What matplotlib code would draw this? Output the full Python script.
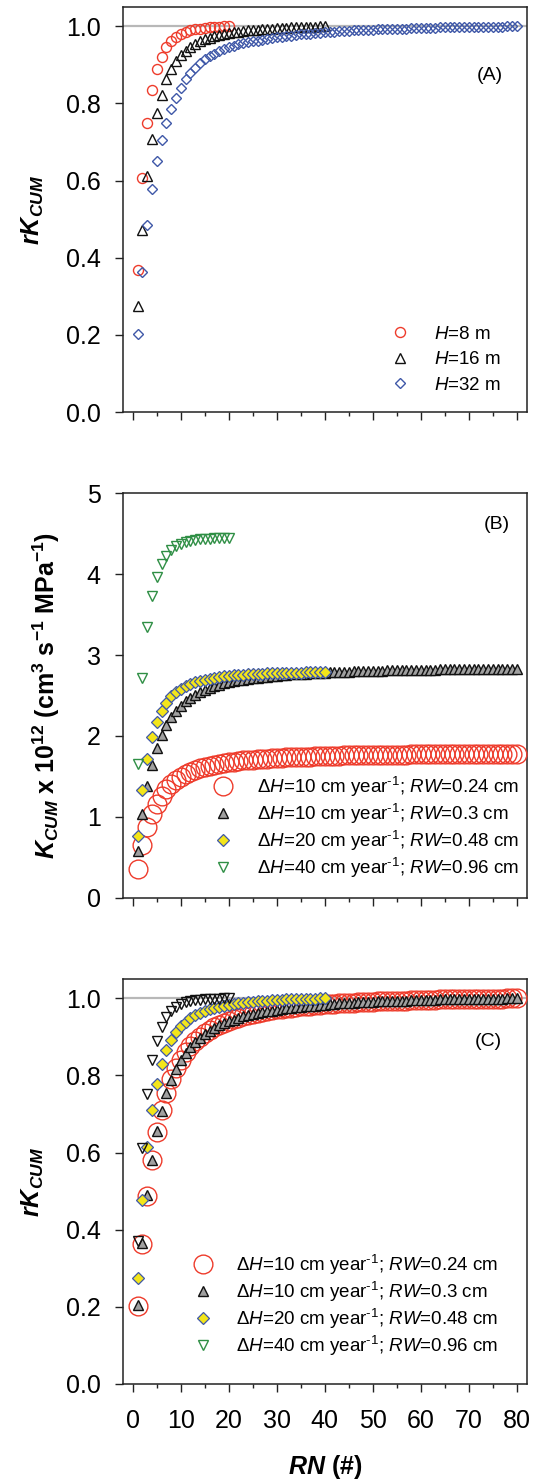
import matplotlib
matplotlib.use('Agg')
import matplotlib.pyplot as plt
from matplotlib.lines import Line2D
from matplotlib.ticker import MultipleLocator, FormatStrFormatter

# ---------------- data ----------------
# Panel A: relative cumulative conductance for tree heights
rk_h8 = [0.369, 0.607, 0.749, 0.836, 0.889, 0.921, 0.946, 0.962, 0.973, 0.980,
         0.985, 0.989, 0.992, 0.994, 0.996, 0.997, 0.998, 0.999, 1.000, 1.000]
rk_h16 = [0.274, 0.473, 0.611, 0.708, 0.774, 0.823, 0.862, 0.888, 0.909, 0.925,
          0.937, 0.947, 0.955, 0.961, 0.966, 0.970, 0.974, 0.977, 0.980, 0.982,
          0.984, 0.986, 0.988, 0.989, 0.990, 0.991, 0.992, 0.993, 0.994, 0.995,
          0.996, 0.996, 0.997, 0.997, 0.998, 0.998, 0.999, 0.999, 1.000, 1.000]
rk_h32 = [0.202, 0.362, 0.486, 0.578, 0.650, 0.704, 0.749, 0.786, 0.814, 0.840,
          0.862, 0.879, 0.893, 0.904, 0.914, 0.922, 0.929, 0.935, 0.940, 0.945,
          0.949, 0.953, 0.956, 0.959, 0.961, 0.963, 0.965, 0.967, 0.969, 0.971,
          0.973, 0.975, 0.976, 0.978, 0.979, 0.980, 0.981, 0.982, 0.983, 0.984,
          0.985, 0.986, 0.987, 0.988, 0.988, 0.989, 0.990, 0.990, 0.991, 0.991,
          0.992, 0.992, 0.993, 0.993, 0.994, 0.994, 0.994, 0.995, 0.995, 0.995,
          0.996, 0.996, 0.996, 0.997, 0.997, 0.997, 0.997, 0.998, 0.998, 0.998,
          0.998, 0.998, 0.999, 0.999, 0.999, 0.999, 0.999, 1.000, 1.000, 1.000]

# Panel B: cumulative conductance K_CUM x 10^12
k_dh10_rw024 = [0.360, 0.648, 0.869, 1.036, 1.164, 1.264, 1.342, 1.406, 1.456, 1.497,
                1.531, 1.559, 1.582, 1.602, 1.620, 1.634, 1.647, 1.657, 1.668, 1.677,
                1.684, 1.691, 1.698, 1.703, 1.709, 1.714, 1.718, 1.721, 1.725, 1.728,
                1.732, 1.736, 1.737, 1.741, 1.743, 1.744, 1.746, 1.748, 1.750, 1.752,
                1.753, 1.755, 1.757, 1.759, 1.759, 1.760, 1.762, 1.762, 1.764, 1.764,
                1.766, 1.766, 1.768, 1.768, 1.769, 1.769, 1.769, 1.771, 1.771, 1.771,
                1.773, 1.773, 1.773, 1.775, 1.775, 1.775, 1.775, 1.776, 1.776, 1.776,
                1.776, 1.776, 1.778, 1.778, 1.778, 1.778, 1.778, 1.780, 1.780, 1.780]
k_dh10_rw03 = [0.580, 1.036, 1.384, 1.647, 1.856, 2.006, 2.134, 2.233, 2.312, 2.374,
               2.428, 2.473, 2.510, 2.541, 2.570, 2.592, 2.612, 2.632, 2.649, 2.663,
               2.674, 2.686, 2.697, 2.705, 2.714, 2.722, 2.728, 2.734, 2.739, 2.745,
               2.751, 2.756, 2.762, 2.765, 2.768, 2.771, 2.773, 2.776, 2.779, 2.782,
               2.788, 2.790, 2.793, 2.796, 2.796, 2.799, 2.802, 2.802, 2.805, 2.805,
               2.807, 2.807, 2.810, 2.810, 2.813, 2.813, 2.813, 2.816, 2.816, 2.816,
               2.819, 2.819, 2.819, 2.822, 2.822, 2.822, 2.822, 2.824, 2.824, 2.824,
               2.824, 2.824, 2.827, 2.827, 2.827, 2.827, 2.827, 2.830, 2.830, 2.830]
k_dh20_rw048 = [0.767, 1.330, 1.716, 1.984, 2.173, 2.313, 2.413, 2.489, 2.544, 2.586,
                2.620, 2.645, 2.667, 2.684, 2.698, 2.709, 2.720, 2.729, 2.737, 2.743,
                2.748, 2.754, 2.757, 2.762, 2.765, 2.768, 2.770, 2.773, 2.776, 2.776,
                2.779, 2.782, 2.782, 2.784, 2.784, 2.787, 2.787, 2.787, 2.790, 2.790]
k_dh40_rw096 = [1.650, 2.720, 3.350, 3.730, 3.970, 4.120, 4.230, 4.300, 4.345, 4.375,
                4.397, 4.412, 4.423, 4.430, 4.435, 4.440, 4.444, 4.447, 4.450, 4.450]

# Panel C: relative cumulative conductance
rk_dh10_rw024 = [0.202, 0.364, 0.488, 0.582, 0.654, 0.710, 0.754, 0.790, 0.818, 0.841,
                 0.860, 0.876, 0.889, 0.900, 0.910, 0.918, 0.925, 0.931, 0.937, 0.942,
                 0.946, 0.950, 0.954, 0.957, 0.960, 0.963, 0.965, 0.967, 0.969, 0.971,
                 0.973, 0.975, 0.976, 0.978, 0.979, 0.980, 0.981, 0.982, 0.983, 0.984,
                 0.985, 0.986, 0.987, 0.988, 0.988, 0.989, 0.990, 0.990, 0.991, 0.991,
                 0.992, 0.992, 0.993, 0.993, 0.994, 0.994, 0.994, 0.995, 0.995, 0.995,
                 0.996, 0.996, 0.996, 0.997, 0.997, 0.997, 0.997, 0.998, 0.998, 0.998,
                 0.998, 0.998, 0.999, 0.999, 0.999, 0.999, 0.999, 1.000, 1.000, 1.000]
rk_dh10_rw03 = [0.205, 0.366, 0.489, 0.582, 0.656, 0.709, 0.754, 0.789, 0.817, 0.839,
                0.858, 0.874, 0.887, 0.898, 0.908, 0.916, 0.923, 0.930, 0.936, 0.941,
                0.945, 0.949, 0.953, 0.956, 0.959, 0.962, 0.964, 0.966, 0.968, 0.970,
                0.972, 0.974, 0.976, 0.977, 0.978, 0.979, 0.980, 0.981, 0.982, 0.983,
                0.985, 0.986, 0.987, 0.988, 0.988, 0.989, 0.990, 0.990, 0.991, 0.991,
                0.992, 0.992, 0.993, 0.993, 0.994, 0.994, 0.994, 0.995, 0.995, 0.995,
                0.996, 0.996, 0.996, 0.997, 0.997, 0.997, 0.997, 0.998, 0.998, 0.998,
                0.998, 0.998, 0.999, 0.999, 0.999, 0.999, 0.999, 1.000, 1.000, 1.000]
rk_dh20_rw048 = [0.275, 0.477, 0.615, 0.711, 0.779, 0.829, 0.865, 0.892, 0.912, 0.927,
                 0.939, 0.948, 0.956, 0.962, 0.967, 0.971, 0.975, 0.978, 0.981, 0.983,
                 0.985, 0.987, 0.988, 0.990, 0.991, 0.992, 0.993, 0.994, 0.995, 0.995,
                 0.996, 0.997, 0.997, 0.998, 0.998, 0.999, 0.999, 0.999, 1.000, 1.000]
rk_dh40_rw096 = [0.370, 0.612, 0.752, 0.839, 0.890, 0.925, 0.951, 0.968, 0.978, 0.985,
                 0.990, 0.993, 0.995, 0.996, 0.997, 0.998, 0.999, 0.999, 1.000, 1.000]

labels_A = [r'$\mathit{H}$=8 m', r'$\mathit{H}$=16 m', r'$\mathit{H}$=32 m']
labels_BC = [r'$\mathit{ΔH}$=10 cm year$^{\text{-1}}$; $\mathit{RW}$=0.24 cm',
             r'$\mathit{ΔH}$=10 cm year$^{\text{-1}}$; $\mathit{RW}$=0.3 cm',
             r'$\mathit{ΔH}$=20 cm year$^{\text{-1}}$; $\mathit{RW}$=0.48 cm',
             r'$\mathit{ΔH}$=40 cm year$^{\text{-1}}$; $\mathit{RW}$=0.96 cm']


def rn(vals):
    return list(range(1, len(vals) + 1))


# ---------------- style ----------------
plt.rcParams.update({
    'font.family': 'Liberation Sans',
    'mathtext.fontset': 'custom',
    'mathtext.rm': 'Liberation Sans',
    'mathtext.it': 'Liberation Sans:italic',
    'mathtext.bf': 'Liberation Sans:bold',
    'mathtext.bfit': 'Liberation Sans:italic:bold',
    'axes.linewidth': 1.1,
    'axes.edgecolor': '#222222',
})

RED = '#ee3b2b'
BLUE = '#3f58a8'
GREEN = '#2f8f45'
GRAY = '#a0a0a0'
YELLOW = '#f3e51a'
REFGRAY = '#b8b8b8'

fig = plt.figure(figsize=(5.36, 14.8), dpi=100)
axA = fig.add_axes([0.229, 0.7216, 0.754, 0.2737])
axB = fig.add_axes([0.229, 0.3934, 0.754, 0.2733])
axC = fig.add_axes([0.229, 0.0649, 0.754, 0.2736])

for ax in (axA, axB, axC):
    ax.set_xlim(-2.1, 82.1)
    ax.xaxis.set_major_locator(MultipleLocator(10))
    ax.xaxis.set_minor_locator(MultipleLocator(5))
    ax.tick_params(axis='both', which='major', direction='out', length=6,
                   width=1.0, labelsize=18, color='#222222')
    ax.tick_params(axis='x', which='minor', direction='out', length=3, width=1.0,
                   color='#222222')
    ax.tick_params(axis='y', which='major', pad=10)
    ax.tick_params(axis='x', which='major', pad=12)

axA.tick_params(axis='x', labelbottom=False)
axB.tick_params(axis='x', labelbottom=False)

# ---- Panel A ----
axA.axhline(1.0, color=REFGRAY, lw=1.6, zorder=1)
axA.plot(rn(rk_h8), rk_h8, ls='none', marker='o', ms=7.2, mfc='none', mec=RED, mew=1.0, zorder=3)
axA.plot(rn(rk_h16), rk_h16, ls='none', marker='^', ms=7.2, mfc='none', mec='#111111', mew=1.0, zorder=3)
axA.plot(rn(rk_h32), rk_h32, ls='none', marker='D', ms=5.1, mfc='none', mec=BLUE, mew=1.0, zorder=3)
axA.set_ylim(0, 1.05)
axA.yaxis.set_major_locator(MultipleLocator(0.2))
axA.yaxis.set_major_formatter(FormatStrFormatter('%.1f'))
axA.set_ylabel(r'$\mathbfit{rK}_{\mathbfit{CUM}}$', fontsize=18)
axA.yaxis.set_label_coords(-0.19, 0.5)
axA.text(0.908, 0.83, '(A)', transform=axA.transAxes, fontsize=14, ha='center', va='center')
hA = [Line2D([], [], ls='none', marker='o', ms=7.2, mfc='none', mec=RED, mew=1.0),
      Line2D([], [], ls='none', marker='^', ms=7.2, mfc='none', mec='#111111', mew=1.0),
      Line2D([], [], ls='none', marker='D', ms=5.1, mfc='none', mec=BLUE, mew=1.0)]
axA.legend(hA, labels_A, loc='lower right', bbox_to_anchor=(0.935, 0.045), frameon=False,
           fontsize=13.5, handlelength=1.0, handletextpad=1.3, labelspacing=0.45,
           borderpad=0, borderaxespad=0)

# ---- Panel B ----
axB.plot(rn(k_dh10_rw024), k_dh10_rw024, ls='none', marker='o', ms=13.5, mfc='none', mec=RED, mew=1.0, zorder=3)
axB.plot(rn(k_dh10_rw03), k_dh10_rw03, ls='none', marker='^', ms=7.9, mfc=GRAY, mec='#111111', mew=1.0, zorder=3)
axB.plot(rn(k_dh20_rw048), k_dh20_rw048, ls='none', marker='D', ms=5.8, mfc=YELLOW, mec=BLUE, mew=0.9, zorder=4)
axB.plot(rn(k_dh40_rw096), k_dh40_rw096, ls='none', marker='v', ms=7.9, mfc='none', mec=GREEN, mew=1.0, zorder=4)
axB.set_ylim(0, 5)
axB.yaxis.set_major_locator(MultipleLocator(1))
axB.set_ylabel(r'$\mathbfit{K}_{\mathbfit{CUM}}$ x 10$^{\mathbf{12}}$ (cm$^{\mathbf{3}}$ s$^{\mathbf{-1}}$ MPa$^{\mathbf{-1}}$)',
               fontsize=18, fontweight='bold')
axB.yaxis.set_label_coords(-0.15, 0.5)
axB.text(0.926, 0.922, '(B)', transform=axB.transAxes, fontsize=14, ha='center', va='center')
hBC = [Line2D([], [], ls='none', marker='o', ms=13.5, mfc='none', mec=RED, mew=1.0),
       Line2D([], [], ls='none', marker='^', ms=7.9, mfc=GRAY, mec='#111111', mew=1.0),
       Line2D([], [], ls='none', marker='D', ms=5.8, mfc=YELLOW, mec=BLUE, mew=0.9),
       Line2D([], [], ls='none', marker='v', ms=7.9, mfc='none', mec=GREEN, mew=1.0)]
axB.legend(hBC, labels_BC, loc='lower right', bbox_to_anchor=(0.98, 0.045), frameon=False,
           fontsize=13.5, handlelength=1.0, handletextpad=1.3, labelspacing=0.15,
           borderpad=0, borderaxespad=0)

# ---- Panel C ----
axC.axhline(1.0, color=REFGRAY, lw=1.6, zorder=1)
axC.plot(rn(rk_dh10_rw024), rk_dh10_rw024, ls='none', marker='o', ms=13.5, mfc='none', mec=RED, mew=1.0, zorder=3)
axC.plot(rn(rk_dh10_rw03), rk_dh10_rw03, ls='none', marker='^', ms=7.9, mfc=GRAY, mec='#111111', mew=1.0, zorder=3)
axC.plot(rn(rk_dh20_rw048), rk_dh20_rw048, ls='none', marker='D', ms=5.8, mfc=YELLOW, mec=BLUE, mew=0.9, zorder=4)
axC.plot(rn(rk_dh40_rw096), rk_dh40_rw096, ls='none', marker='v', ms=7.9, mfc='none', mec='#111111', mew=1.0, zorder=4)
axC.set_ylim(0, 1.05)
axC.yaxis.set_major_locator(MultipleLocator(0.2))
axC.yaxis.set_major_formatter(FormatStrFormatter('%.1f'))
axC.set_ylabel(r'$\mathbfit{rK}_{\mathbfit{CUM}}$', fontsize=18)
axC.yaxis.set_label_coords(-0.19, 0.5)
axC.set_xlabel(r'$\mathbfit{RN}$ (#)', fontsize=18, fontweight='bold')
axC.xaxis.set_label_coords(0.5, -0.17)
axC.text(0.904, 0.845, '(C)', transform=axC.transAxes, fontsize=14, ha='center', va='center')
axC.legend(hBC, labels_BC, loc='lower right', bbox_to_anchor=(0.93, 0.065), frameon=False,
           fontsize=13.5, handlelength=1.0, handletextpad=1.3, labelspacing=0.15,
           borderpad=0, borderaxespad=0)

fig.savefig('out.png', dpi=100)
